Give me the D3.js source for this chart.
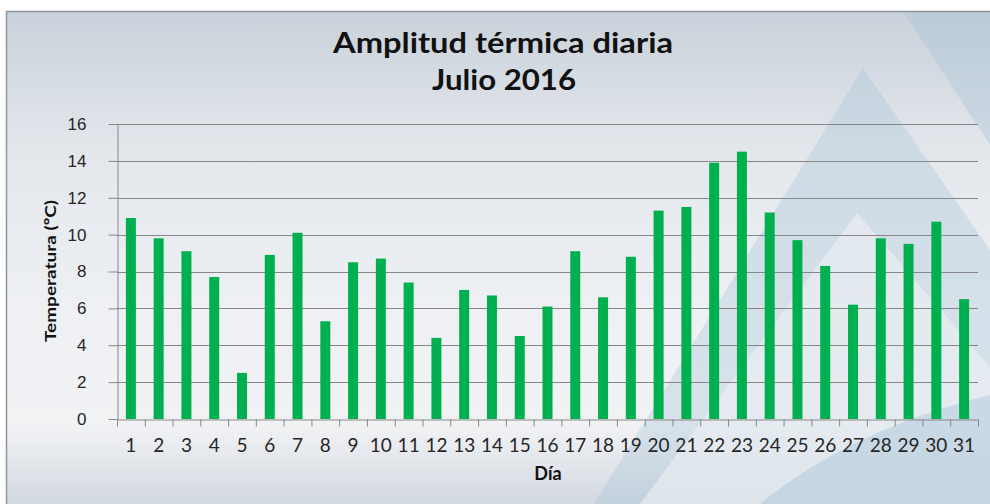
<!DOCTYPE html>
<html>
<head>
<meta charset="utf-8">
<script src="https://cdn.jsdelivr.net/npm/d3@7"></script>
<style>
  body { margin: 0; background: #fff; }
  svg { display: block; }
</style>
</head>
<body>
<script>
// data
const dias = d3.range(1, 32).map(String);
const amplitud = [10.9, 9.8, 9.1, 7.7, 2.5, 8.9, 10.1, 5.3, 8.5, 8.7,
                  7.4, 4.4, 7.0, 6.7, 4.5, 6.1, 9.1, 6.6, 8.8, 11.3,
                  11.5, 13.9, 14.5, 11.2, 9.7, 8.3, 6.2, 9.8, 9.5, 10.7, 6.5];
const yTicks = [0, 2, 4, 6, 8, 10, 12, 14, 16];

const W = 990, H = 504;
const plotL = 117, plotR = 978, plotT = 124, plotB = 419;

const svg = d3.select('body').append('svg')
  .attr('width', W).attr('height', H);

// background
const defs = svg.append('defs');
const bg = defs.append('linearGradient').attr('id', 'bg')
  .attr('x1', 0).attr('y1', 0).attr('x2', 0).attr('y2', 1);
bg.append('stop').attr('offset', '0%').attr('stop-color', '#c9d1da');
bg.append('stop').attr('offset', '28%').attr('stop-color', '#e3e7ec');
bg.append('stop').attr('offset', '60%').attr('stop-color', '#eef0f3');
bg.append('stop').attr('offset', '84%').attr('stop-color', '#f1f2f4');
bg.append('stop').attr('offset', '100%').attr('stop-color', '#d3d9e1');

svg.append('rect')
  .attr('x', 6).attr('y', 11).attr('width', W - 6).attr('height', H - 11)
  .attr('fill', 'url(#bg)');

// decorative theme shapes
const deco = svg.append('g');
deco.append('path')
  .attr('d', 'M903,11 L990,11 L990,145 Z')
  .attr('fill', '#a9c4d8').attr('opacity', 0.4);
deco.append('path')
  .attr('d', 'M863,68 L990,250 L990,504 L594,504 Z')
  .attr('fill', '#a7c3d8').attr('opacity', 0.35);
deco.append('path')
  .attr('d', 'M857,213 L990,367 L990,504 L640,504 Z')
  .attr('fill', '#eef1f4').attr('opacity', 0.6);
deco.append('path')
  .attr('d', 'M760,504 Q850,430 990,395 L990,504 Z')
  .attr('fill', '#a7c3d8').attr('opacity', 0.45);

svg.append('path')
  .attr('d', `M6.5,${H} L6.5,11.5 L${W},11.5`)
  .attr('fill', 'none').attr('stroke', '#8e959d').attr('stroke-width', 1.5);

// scales
const x = d3.scaleBand().domain(dias).range([plotL, plotR])
  .paddingInner(0.64).paddingOuter(0.32);
const edge = d3.scaleLinear().domain([0, dias.length]).range([plotL, plotR]);
const y = d3.scaleLinear().domain([0, 16]).range([plotB, plotT]);

// gridlines
svg.append('g')
  .selectAll('line').data(yTicks.filter(d => d > 0)).enter()
  .append('line')
  .attr('x1', plotL).attr('x2', plotR)
  .attr('y1', d => Math.round(y(d)) + 0.5).attr('y2', d => Math.round(y(d)) + 0.5)
  .attr('stroke', '#878787').attr('stroke-width', 1);

// bars
svg.append('g')
  .selectAll('rect').data(amplitud).enter()
  .append('rect')
  .attr('x', (d, i) => x(dias[i]))
  .attr('width', x.bandwidth())
  .attr('y', d => y(d))
  .attr('height', d => y(0) - y(d))
  .attr('fill', '#00b050');

// y axis
const yAxis = svg.append('g')
  .attr('transform', `translate(${plotL + 0.5},0)`)
  .call(d3.axisLeft(y).tickValues(yTicks).tickSize(9).tickPadding(22).tickSizeOuter(0));
yAxis.select('.domain').attr('stroke', '#878787');
yAxis.selectAll('.tick line').attr('stroke', '#878787');
yAxis.selectAll('.tick text')
  .attr('font-family', '"Liberation Sans", Arial, sans-serif')
  .attr('font-size', 17).attr('fill', '#262626');

// x axis: tick marks on category edges
const xEdges = svg.append('g')
  .attr('transform', `translate(0,${plotB + 0.5})`)
  .call(d3.axisBottom(edge).tickValues(d3.range(dias.length + 1))
    .tickFormat('').tickSize(7).tickSizeOuter(0));
xEdges.select('.domain').attr('stroke', '#878787');
xEdges.selectAll('.tick line').attr('stroke', '#878787');

// x axis labels
const xAxis = svg.append('g')
  .attr('transform', `translate(0,${plotB})`)
  .call(d3.axisBottom(x).tickSize(0).tickPadding(20));
xAxis.select('.domain').remove();
xAxis.selectAll('.tick text')
  .attr('font-family', 'Lato, "Open Sans", sans-serif')
  .attr('font-size', 19).attr('fill', '#262626');

// titles
const title = svg.append('g')
  .attr('font-family', 'Lato, "Open Sans", sans-serif')
  .attr('font-weight', 'bold').attr('font-size', 29).attr('fill', '#111')
  .attr('text-anchor', 'middle');
title.append('text').attr('x', 503).attr('y', 53)
  .attr('textLength', 340).attr('lengthAdjust', 'spacingAndGlyphs')
  .text('Amplitud térmica diaria');
title.append('text').attr('x', 504).attr('y', 90)
  .attr('textLength', 144).attr('lengthAdjust', 'spacingAndGlyphs')
  .text('Julio 2016');

svg.append('text')
  .attr('transform', 'translate(56,271) rotate(-90)')
  .attr('text-anchor', 'middle')
  .attr('font-family', 'Lato, "Open Sans", sans-serif')
  .attr('font-weight', 'bold').attr('font-size', 16).attr('fill', '#111')
  .attr('textLength', 142).attr('lengthAdjust', 'spacingAndGlyphs')
  .text('Temperatura (ºC)');

svg.append('text')
  .attr('x', 548).attr('y', 480).attr('text-anchor', 'middle')
  .attr('font-family', 'Lato, "Open Sans", sans-serif')
  .attr('font-weight', 'bold').attr('font-size', 18).attr('fill', '#111')
  .text('Día');
</script>
</body>
</html>
